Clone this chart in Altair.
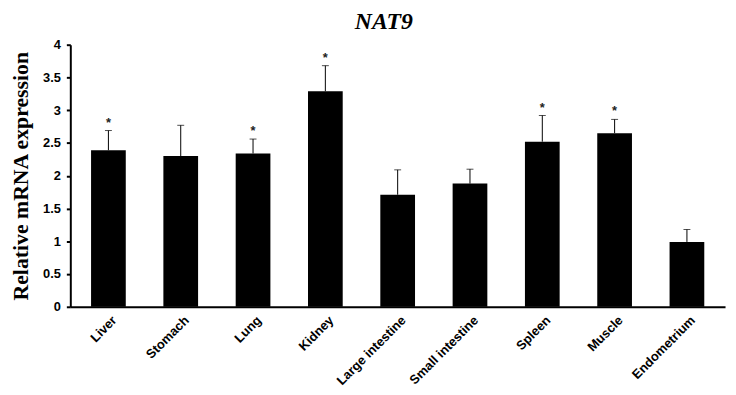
import altair as alt
import pandas as pd

tissues = ["Liver", "Stomach", "Lung", "Kidney", "Large intestine",
           "Small intestine", "Spleen", "Muscle", "Endometrium"]
values = [2.39, 2.30, 2.34, 3.29, 1.71, 1.88, 2.52, 2.65, 0.99]
err_top = [2.69, 2.77, 2.56, 3.68, 2.09, 2.10, 2.92, 2.86, 1.18]
stars = ["*", "", "*", "*", "", "", "*", "*", ""]
y_ticks = [0, 0.5, 1, 1.5, 2, 2.5, 3, 3.5, 4]

df = pd.DataFrame({"tissue": tissues, "value": values, "top": err_top, "star": stars})

x = alt.X("tissue:N", sort=tissues,
          scale=alt.Scale(paddingInner=0.52, paddingOuter=0.287),
          axis=alt.Axis(title=None, labelAngle=-45, labelAlign="right", labelBaseline="top",
                        labelFont="Liberation Sans", labelFontSize=13, labelFontWeight="bold",
                        labelColor="black", labelOverlap=False, labelOffset=2,
                        ticks=False, domainColor="black", domainWidth=2, labelPadding=7))

yaxis = alt.Axis(title="Relative mRNA expression", titleFont="Liberation Serif",
                 titleFontSize=22, titleFontWeight="bold", titleColor="black",
                 titlePadding=10,
                 values=y_ticks, format="~g",
                 labelOverlap=False,
                 labelFont="Liberation Sans", labelFontSize=13, labelFontWeight="bold",
                 labelColor="black",
                 grid=False, tickColor="black", tickSize=4, tickWidth=2,
                 domainColor="black", domainWidth=2, labelPadding=6)
yscale = alt.Scale(domain=[0, 4], nice=False)


def Y(field):
    return alt.Y(field, scale=yscale, axis=yaxis, title="Relative mRNA expression")


base = alt.Chart(df)
bars = base.mark_bar(color="black").encode(x=x, y=Y("value:Q"))
rules = base.mark_rule(color="black", strokeWidth=1).encode(x=x, y=Y("value:Q"), y2="top:Q")
caps = base.mark_tick(color="black", size=7, thickness=1, orient="horizontal").encode(x=x, y=Y("top:Q"))
txt = base.mark_text(font="Liberation Sans", fontSize=13, fontWeight="bold", color="#222",
                     dy=-8, baseline="middle").encode(x=x, y=Y("top:Q"), text="star:N")

chart = alt.layer(bars, rules, caps, txt).properties(
    width=662, height=265,
    title=alt.TitleParams("NAT9", font="Liberation Serif", fontSize=24, fontWeight="bold",
                          fontStyle="italic", color="black", anchor="middle", offset=5, dx=-14),
    autosize=alt.AutoSizeParams(type="none"),
    padding={"left": 63, "top": 35, "right": 3, "bottom": 80},
    background="white",
).configure_view(stroke=None)

chart.save("out.html", embed_options={"renderer": "svg", "actions": False})
